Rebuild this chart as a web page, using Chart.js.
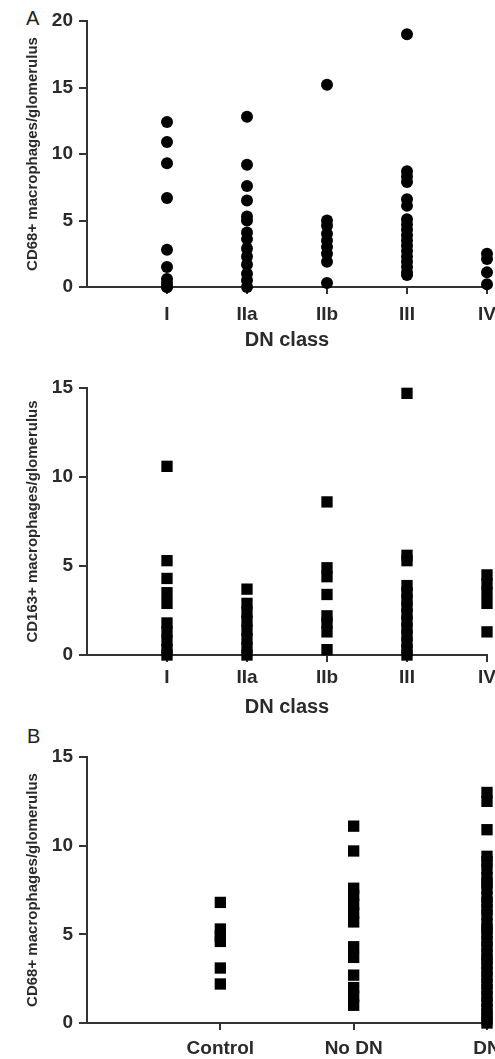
<!DOCTYPE html>
<html>
<head>
<meta charset="utf-8">
<script src="https://cdn.jsdelivr.net/npm/chart.js@4.4.1/dist/chart.umd.min.js"></script>
<style>
  html, body { margin: 0; padding: 0; background: #fff; width: 495px; height: 1059px; overflow: hidden; }
  canvas { position: absolute; left: 0; }
  .tag { position: absolute; font: 20px 'Liberation Sans', Arial, sans-serif; line-height: 20px; color: #222; }
</style>
</head>
<body>
<div class="tag" style="left:26px;top:8px">A</div>
<div class="tag" style="left:27px;top:726px">B</div>
<canvas id="cd68-class" width="520" height="355" style="top:0"></canvas>
<canvas id="cd163-class" width="520" height="367" style="top:355px"></canvas>
<canvas id="cd68-group" width="520" height="337" style="top:722px"></canvas>
<script>
'use strict';

// categories
const dnClasses = ['I', 'IIa', 'IIb', 'III', 'IV'];
const groups = ['Control', 'No DN', 'DN'];

// tick labels on the y axes
const yTicks20 = [0, 5, 10, 15, 20];
const yTicks15 = [0, 5, 10, 15];

// CD68+ macrophages per glomerulus, by DN class (panel A, top)
const cd68I = [12.4, 10.9, 9.3, 6.7, 2.8, 1.5, 0.6, 0.3, 0, 0];
const cd68IIa = [12.8, 9.2, 7.6, 6.5, 5.3, 5.0, 4.1, 3.6, 2.9, 2.3, 1.7, 1.0, 0.5, 0];
const cd68IIb = [15.2, 5.0, 4.6, 4.0, 3.5, 3.0, 2.5, 1.9, 0.3];
const cd68III = [19.0, 8.7, 8.3, 7.9, 6.6, 6.1, 5.1, 4.7, 4.3, 3.9, 3.5, 3.1, 2.7, 2.3, 1.9, 1.5, 1.1, 0.9];
const cd68IV = [2.5, 2.1, 1.1, 0.2];

// CD163+ macrophages per glomerulus, by DN class (panel A, bottom)
const cd163I = [10.6, 5.3, 4.3, 3.5, 2.9, 1.8, 1.3, 0.8, 0.3, 0];
const cd163IIa = [3.7, 2.9, 2.4, 1.9, 1.4, 0.9, 0.4, 0];
const cd163IIb = [8.6, 4.9, 4.4, 3.4, 2.2, 1.8, 1.3, 0.3];
const cd163III = [14.7, 5.6, 5.3, 3.9, 3.5, 3.1, 2.7, 2.3, 1.9, 1.5, 1.1, 0.7, 0.3, 0];
const cd163IV = [4.5, 4.0, 3.5, 2.9, 1.3];

// CD68+ macrophages per glomerulus, by group (panel B)
const cd68Control = [6.8, 5.3, 4.9, 4.6, 3.1, 2.2];
const cd68NoDN = [11.1, 9.7, 7.6, 7.2, 6.7, 6.2, 5.7, 4.3, 3.7, 2.7, 2.0, 1.5, 1.0];
const cd68DN = [13.0, 12.5, 10.9, 9.4, 9.1, 8.7, 8.2, 7.9, 7.6, 7.1, 6.8, 6.4, 6.1, 5.6, 5.3,
  5.0, 4.6, 4.3, 3.9, 3.6, 3.3, 2.9, 2.6, 2.2, 1.9, 1.5, 1.2, 0.8, 0.5, 0.2, 0];

const FONT = "'Liberation Sans', Arial, sans-serif";
const INK = '#2a2a2a';

function toPoints(columns) {
  const pts = [];
  columns.forEach((vals, i) => vals.forEach((v) => pts.push({ x: i + 1, y: v })));
  return pts;
}

function makePanel(id, cfg) {
  const canvas = document.getElementById(id);
  return new Chart(canvas.getContext('2d'), {
    type: 'scatter',
    data: {
      datasets: [{
        data: toPoints(cfg.columns),
        pointStyle: cfg.marker,
        pointRadius: cfg.radius,
        pointHoverRadius: cfg.radius,
        backgroundColor: '#000',
        borderColor: '#000',
        borderWidth: 0,
        clip: false,
      }],
    },
    options: {
      responsive: false,
      animation: false,
      events: [],
      layout: { padding: { top: cfg.padTop, right: 520 - cfg.right, bottom: 0, left: 0 } },
      plugins: { legend: { display: false }, tooltip: { enabled: false } },
      scales: {
        x: {
          type: 'linear',
          min: 0,
          max: cfg.labels.length,
          afterBuildTicks: (s) => { s.ticks = cfg.labels.map((_, i) => ({ value: i + 1 })); },
          afterFit: (s) => { s.height = cfg.xHeight; },
          ticks: {
            autoSkip: false,
            maxRotation: 0,
            padding: cfg.xPad,
            color: INK,
            font: { family: FONT, size: 19, weight: 'bold' },
            callback: (v) => cfg.labels[v - 1] || '',
          },
          grid: { drawOnChartArea: false, drawTicks: true, tickLength: 7, color: '#333', lineWidth: 2 },
          border: { display: true, color: '#333', width: 2 },
          title: {
            display: !!cfg.xTitle,
            text: cfg.xTitle || '',
            color: INK,
            font: { family: FONT, size: 20, weight: 'bold' },
            padding: { top: 0, bottom: 3 },
          },
        },
        y: {
          min: 0,
          max: cfg.yTicks[cfg.yTicks.length - 1],
          afterBuildTicks: (s) => { s.ticks = cfg.yTicks.map((v) => ({ value: v })); },
          afterFit: (s) => { s.width = 87; },
          ticks: {
            padding: 6,
            color: INK,
            font: { family: FONT, size: 19, weight: 'bold' },
          },
          grid: { drawOnChartArea: false, drawTicks: true, tickLength: 8, color: '#333', lineWidth: 2 },
          border: { display: true, color: '#333', width: 2 },
          title: {
            display: true,
            text: cfg.yTitle,
            color: INK,
            font: { family: FONT, size: 15, weight: 'bold' },
            padding: { top: 24, bottom: 0 },
          },
        },
      },
    },
  });
}

makePanel('cd68-class', {
  columns: [cd68I, cd68IIa, cd68IIb, cd68III, cd68IV],
  labels: dnClasses,
  marker: 'circle',
  radius: 6,
  padTop: 21,
  right: 487,
  xHeight: 68,
  xPad: 9,
  xTitle: 'DN class',
  yTicks: yTicks20,
  yTitle: 'CD68+ macrophages/glomerulus',
});

makePanel('cd163-class', {
  columns: [cd163I, cd163IIa, cd163IIb, cd163III, cd163IV],
  labels: dnClasses,
  marker: 'rect',
  radius: 8,
  padTop: 33,
  right: 487,
  xHeight: 67,
  xPad: 4,
  xTitle: 'DN class',
  yTicks: yTicks15,
  yTitle: 'CD163+ macrophages/glomerulus',
});

makePanel('cd68-group', {
  columns: [cd68Control, cd68NoDN, cd68DN],
  labels: groups,
  marker: 'rect',
  radius: 8,
  padTop: 35,
  right: 487,
  xHeight: 36,
  xPad: 7,
  xTitle: '',
  yTicks: yTicks15,
  yTitle: 'CD68+ macrophages/glomerulus',
});
</script>
</body>
</html>
